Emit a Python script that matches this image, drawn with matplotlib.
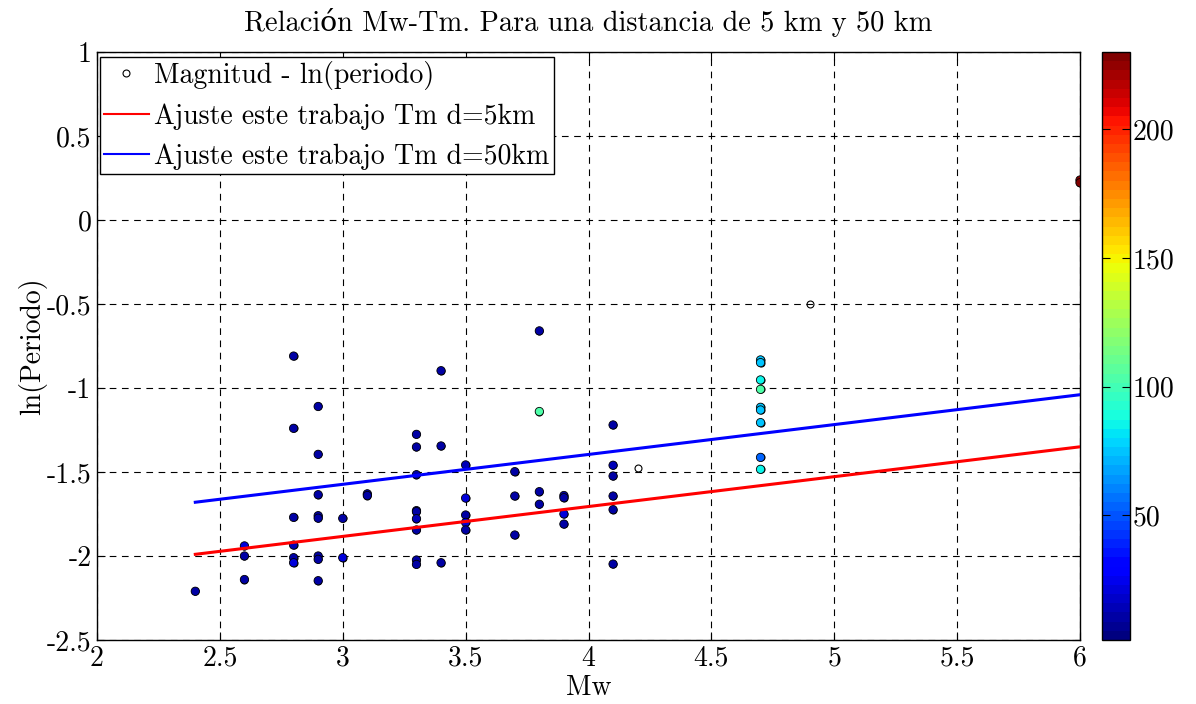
import numpy as np
import matplotlib
matplotlib.use("Agg")
import matplotlib.pyplot as plt
from matplotlib.lines import Line2D

plt.rcParams['font.family'] = ['cmr10', 'DejaVu Serif']
plt.rcParams['axes.unicode_minus'] = False
plt.rcParams['axes.formatter.use_mathtext'] = False

# ---- data ----
mw = [2.4,
      2.6, 2.6, 2.6,
      2.8, 2.8, 2.8, 2.8, 2.8, 2.8,
      2.9, 2.9, 2.9, 2.9, 2.9, 2.9, 2.9, 2.9,
      3.0, 3.0,
      3.1, 3.1,
      3.3, 3.3, 3.3, 3.3, 3.3, 3.3, 3.3, 3.3, 3.3,
      3.4, 3.4, 3.4,
      3.5, 3.5, 3.5, 3.5, 3.5,
      3.7, 3.7, 3.7,
      3.8, 3.8, 3.8, 3.8,
      3.9, 3.9, 3.9, 3.9,
      4.1, 4.1, 4.1, 4.1, 4.1, 4.1,
      4.2,
      4.7, 4.7, 4.7, 4.7, 4.7, 4.7, 4.7, 4.7, 4.7,
      4.9,
      6.0, 6.0]
ln_period = [-2.21,
             -1.94, -2.00, -2.14,
             -0.81, -1.24, -1.77, -1.935, -2.01, -2.04,
             -1.11, -1.395, -1.635, -1.76, -1.775, -2.00, -2.02, -2.147,
             -1.776, -2.01,
             -1.63, -1.64,
             -1.276, -1.351, -1.516, -1.73, -1.736, -1.778, -1.845, -2.024, -2.05,
             -0.897, -1.345, -2.04,
             -1.458, -1.655, -1.756, -1.80, -1.845,
             -1.498, -1.643, -1.875,
             -0.66, -1.14, -1.617, -1.692,
             -1.64, -1.653, -1.75, -1.81,
             -1.22, -1.46, -1.524, -1.643, -1.724, -2.048,
             -1.474,
             -0.833, -0.849, -0.952, -1.008, -1.115, -1.131, -1.206, -1.413, -1.484,
             -0.50,
             0.238, 0.222]
distance_km = [10,
               20, 12, 10,
               12, 12, 12, 15, 12, 20,
               12, 12, 12, 12, 12, 12, 12, 12,
               12, 20,
               12, 12,
               12, 12, 12, 12, 12, 15, 12, 12, 12,
               12, 12, 12,
               14, 22, 12, 22, 12,
               12, 12, 12,
               12, 104, 12, 12,
               12, 12, 22, 12,
               12, 14, 12, 12, 12, 12,
               np.nan,
               76, 76, 86, 104, 76, 76, 76, 53, 86,
               np.nan,
               228, 228]

fit_x = [2.4, 6.0]
fit_5km = [-1.99, -1.35]
fit_50km = [-1.68, -1.04]

x_ticks = [2, 2.5, 3, 3.5, 4, 4.5, 5, 5.5, 6]
x_tick_labels = ['2', '2.5', '3', '3.5', '4', '4.5', '5', '5.5', '6']
y_ticks = [-2.5, -2, -1.5, -1, -0.5, 0, 0.5, 1]
y_tick_labels = ['-2.5', '-2', '-1.5', '-1', '-0.5', '0', '0.5', '1']
cbar_ticks = [50, 100, 150, 200]
cbar_range = [1.6, 230]

# ---- figure ----
fig = plt.figure(figsize=(11.96, 7.04), dpi=100)
ax = fig.add_axes([97/1196, 64/704, 983/1196, 588/704])
cax = fig.add_axes([1102/1196, 64/704, 28/1196, 588/704])

mw_a = np.array(mw)
ln_a = np.array(ln_period)
d_a = np.array(distance_km, dtype=float)

ax.plot(mw_a, ln_a, 'o', mfc='none', mec='black', ms=5, mew=0.8, zorder=2)
ok = ~np.isnan(d_a)
cmap = plt.get_cmap('jet', 64)
sc = ax.scatter(mw_a[ok], ln_a[ok], c=d_a[ok], cmap=cmap, vmin=cbar_range[0], vmax=cbar_range[1],
                s=36, edgecolors='black', linewidths=0.6, zorder=3)
ax.plot(fit_x, fit_5km, color='red', lw=2.2, zorder=4)
ax.plot(fit_x, fit_50km, color='blue', lw=2.2, zorder=4)

ax.set_xlim(2, 6)
ax.set_ylim(-2.5, 1)
ax.set_xticks(x_ticks)
ax.set_xticklabels(x_tick_labels)
ax.set_yticks(y_ticks)
ax.set_yticklabels(y_tick_labels)
ax.tick_params(direction='in', top=True, right=True, labelsize=20, length=6, width=0.8, pad=4)
ax.grid(True, color='black', linestyle=(0, (6, 5)), linewidth=0.8)
for s in ax.spines.values():
    s.set_linewidth(1.0)

ax.set_xlabel('Mw', fontsize=20, labelpad=2)
ax.set_ylabel('ln(Periodo)', fontsize=20, labelpad=0)
ax.set_title('Relación Mw-Tm. Para una distancia de 5 km y 50 km', fontsize=20.4, pad=15)

handles = [Line2D([], [], marker='o', ls='none', mfc='none', mec='black', ms=5, mew=0.8),
           Line2D([], [], color='red', lw=1.5),
           Line2D([], [], color='blue', lw=1.5)]
labels = ['Magnitud - ln(periodo)', 'Ajuste este trabajo Tm d=5km', 'Ajuste este trabajo Tm d=50km']
leg = ax.legend(handles, labels, loc='upper left', bbox_to_anchor=(0.003, 0.992), fontsize=20,
                frameon=True, fancybox=False, framealpha=1, edgecolor='black',
                borderpad=0.15, labelspacing=0.48, handlelength=1.6, handletextpad=0.2,
                borderaxespad=0.0)
leg.get_frame().set_linewidth(1.0)

cb = fig.colorbar(sc, cax=cax, ticks=cbar_ticks)
cb.ax.tick_params(direction='in', labelsize=20, length=6, width=0.8, left=True, right=True, pad=2)
cb.outline.set_linewidth(1.0)

fig.savefig('out.png', dpi=100)
